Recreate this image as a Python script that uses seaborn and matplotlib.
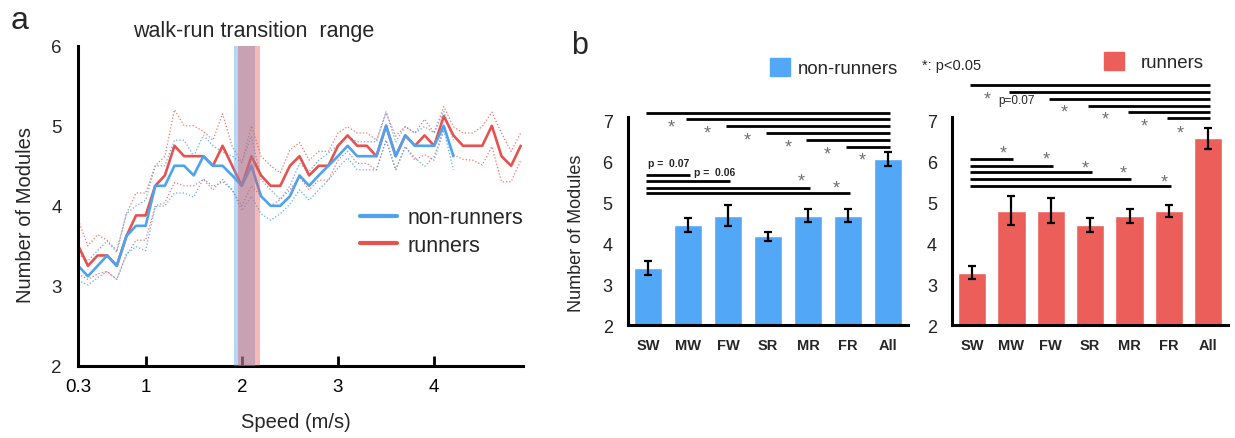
#Number of modules vs speed (a) and per-condition bars (b)

import matplotlib.pyplot as plt
import seaborn as sns
from matplotlib.lines import Line2D
from matplotlib.patches import Patch

sns.set_theme(style='white')
plt.rcParams['font.family'] = ['Liberation Sans', 'DejaVu Sans']

# ---- panel a data ----
speeds = [0.3, 0.4, 0.5, 0.6, 0.7, 0.8, 0.9, 1.0, 1.1, 1.2, 1.3, 1.4, 1.5, 1.6,
          1.7, 1.8, 1.9, 2.0, 2.1, 2.2, 2.3, 2.4, 2.5, 2.6, 2.7, 2.8, 2.9, 3.0,
          3.1, 3.2, 3.3, 3.4, 3.5, 3.6, 3.7, 3.8, 3.9, 4.0, 4.1, 4.2, 4.3, 4.4,
          4.5, 4.6, 4.7, 4.8, 4.9]

runners = [3.5, 3.25, 3.38, 3.38, 3.25, 3.62, 3.88, 3.88, 4.25, 4.38, 4.75, 4.62,
           4.62, 4.62, 4.5, 4.75, 4.5, 4.25, 4.62, 4.38, 4.25, 4.25, 4.5, 4.62,
           4.38, 4.5, 4.5, 4.75, 4.88, 4.75, 4.75, 4.62, 5.0, 4.62, 4.88, 4.75,
           4.88, 4.75, 5.12, 4.88, 4.75, 4.75, 4.75, 5.0, 4.62, 4.5, 4.75]
runners_hi = [3.82, 3.5, 3.64, 3.57, 3.44, 3.9, 4.16, 4.16, 4.5, 4.62, 5.2, 5.0,
              5.0, 4.93, 4.82, 5.15, 4.74, 4.54, 5.0, 4.62, 4.5, 4.41, 4.7, 4.79,
              4.57, 4.68, 4.68, 4.91, 4.99, 4.91, 4.91, 4.82, 5.16, 4.87, 4.99, 4.91,
              5.08, 4.91, 5.24, 4.99, 4.91, 4.91, 4.99, 5.17, 4.91, 4.68, 4.91]
runners_lo = [3.15, 3.08, 3.15, 3.18, 3.08, 3.38, 3.57, 3.57, 4.0, 4.04, 4.29, 4.25,
              4.25, 4.33, 4.2, 4.33, 4.2, 4.0, 4.25, 4.12, 4.0, 4.08, 4.2, 4.36,
              4.2, 4.32, 4.32, 4.57, 4.68, 4.53, 4.53, 4.45, 4.82, 4.45, 4.74, 4.57,
              4.64, 4.57, 4.95, 4.64, 4.58, 4.57, 4.51, 4.74, 4.3, 4.3, 4.57]

nonrunners = [3.25, 3.12, 3.25, 3.38, 3.25, 3.62, 3.75, 3.75, 4.25, 4.25, 4.5, 4.5,
              4.38, 4.62, 4.5, 4.5, 4.38, 4.25, 4.5, 4.12, 4.0, 4.0, 4.12, 4.38,
              4.25, 4.38, 4.5, 4.62, 4.75, 4.62, 4.62, 4.62, 5.0, 4.62, 4.88, 4.75,
              4.75, 4.75, 5.0, 4.62]
nonrunners_hi = [3.4, 3.31, 3.44, 3.56, 3.42, 3.9, 4.0, 4.07, 4.5, 4.5, 4.82, 4.82,
                 4.62, 4.88, 4.75, 4.67, 4.62, 4.54, 4.87, 4.33, 4.2, 4.08, 4.25, 4.53,
                 4.43, 4.57, 4.66, 4.76, 4.87, 4.8, 4.8, 4.8, 5.18, 4.8, 4.99, 4.91,
                 4.99, 4.91, 5.18, 4.82]
nonrunners_lo = [3.07, 3.01, 3.1, 3.18, 3.08, 3.4, 3.49, 3.44, 3.99, 4.0, 4.16, 4.16,
                 4.11, 4.34, 4.24, 4.3, 4.2, 3.94, 4.12, 3.9, 3.82, 3.9, 4.02, 4.2,
                 4.07, 4.2, 4.32, 4.47, 4.6, 4.45, 4.45, 4.45, 4.82, 4.45, 4.74, 4.6,
                 4.49, 4.62, 4.95, 4.45]

# walk-run transition ranges (m/s)
transition_nonrunners = (1.92, 2.14)
transition_runners = (1.965, 2.19)

# ---- panel b data ----
conditions = ['SW', 'MW', 'FW', 'SR', 'MR', 'FR', 'All']
bars_nonrunners = [3.41, 4.44, 4.68, 4.17, 4.68, 4.68, 6.07]
err_nonrunners = [0.17, 0.17, 0.26, 0.11, 0.16, 0.16, 0.17]
bars_runners = [3.29, 4.80, 4.80, 4.44, 4.68, 4.80, 6.56]
err_runners = [0.15, 0.36, 0.30, 0.17, 0.17, 0.15, 0.26]

# significance brackets: (from, to, height)
sig_nonrunners = [(0, 6, 7.19), (1, 6, 7.04), (2, 6, 6.87), (3, 6, 6.70),
                  (4, 6, 6.53), (5, 6, 6.36),
                  (0, 1, 5.68), (0, 2, 5.53), (0, 4, 5.36), (0, 5, 5.22)]
stars_nonrunners = [(0.58, 6.95), (1.47, 6.79), (2.47, 6.63), (3.5, 6.46),
                    (4.47, 6.29), (5.36, 6.13), (3.82, 5.62), (4.7, 5.46)]
ptext_nonrunners = [(0.0, 5.97, 'p =  0.07'), (1.16, 5.74, 'p =  0.06')]

sig_runners = [(0, 6, 7.87), (1, 6, 7.70), (2, 6, 7.53), (3, 6, 7.36),
               (4, 6, 7.21), (5, 6, 7.05),
               (0, 1, 6.07), (0, 2, 5.90), (0, 3, 5.75), (0, 4, 5.58), (0, 5, 5.41)]
stars_runners = [(0.4, 7.63), (2.33, 7.31), (3.39, 7.13), (4.38, 6.97), (5.28, 6.80),
                 (0.8, 6.32), (1.88, 6.15), (2.87, 5.95), (3.84, 5.81), (4.89, 5.61)]
ptext_runners = [(0.66, 7.49, 'p=0.07')]

blue = '#4da3f0'
red = '#e8524e'
bar_blue = '#52a7f7'
bar_red = '#ec5e59'

fig = plt.figure(figsize=(12.35, 4.39), dpi=100)

# ================= panel a =================
ax = fig.add_axes([0.0634, 0.1642, 0.3598, 0.7294])
n = len(nonrunners)
sns.lineplot(x=speeds, y=runners_hi, ax=ax, color=red, lw=0.9, ls=':', alpha=0.8)
sns.lineplot(x=speeds, y=runners_lo, ax=ax, color=red, lw=0.9, ls=':', alpha=0.8)
sns.lineplot(x=speeds[:n], y=nonrunners_hi, ax=ax, color=blue, lw=0.9, ls=':', alpha=0.9)
sns.lineplot(x=speeds[:n], y=nonrunners_lo, ax=ax, color=blue, lw=0.9, ls=':', alpha=0.9)
sns.lineplot(x=speeds, y=runners, ax=ax, color=red, lw=1.9)
sns.lineplot(x=speeds[:n], y=nonrunners, ax=ax, color=blue, lw=1.9)
ax.axvspan(*transition_nonrunners, color='#5aa9ee', alpha=0.45, lw=0, zorder=3)
ax.axvspan(*transition_runners, color='#e8534f', alpha=0.4, lw=0, zorder=3)

ax.set_xlim(0.3, 4.92)
ax.set_ylim(2, 6)
ax.set_xticks([0.3, 1, 2, 3, 4])
ax.set_xticklabels(['0.3', '1', '2', '3', '4'])
ax.set_yticks([2, 3, 4, 5, 6])
ax.tick_params(axis='x', bottom=True, direction='in', length=7, width=2, pad=9,
               labelsize=13.5, colors='black')
ax.tick_params(axis='y', left=False, length=0, pad=12, labelsize=13.5)
for s in ['top', 'right']:
    ax.spines[s].set_visible(False)
for s in ['left', 'bottom']:
    ax.spines[s].set_linewidth(2.2)
    ax.spines[s].set_color('black')
ax.set_xlabel('Speed (m/s)', fontsize=14.5)
ax.set_ylabel('Number of Modules', fontsize=14.5)
ax.xaxis.set_label_coords(0.49, -0.144)
ax.yaxis.set_label_coords(-0.098, 0.474)

handles = [Line2D([], [], color=blue, lw=3), Line2D([], [], color=red, lw=3)]
ax.legend(handles, ['non-runners', 'runners'], loc='upper left',
          bbox_to_anchor=(0.634, 0.495), frameon=False, fontsize=15.5,
          handlelength=1.7, handletextpad=0.5, labelspacing=0.3,
          borderpad=0, borderaxespad=0)

fig.text(254 / 1235, 1 - 32 / 439, 'walk-run transition  range', fontsize=15.5,
         ha='center', va='center')
fig.text(20 / 1235, 1 - 21 / 439, 'a', fontsize=23, ha='center', va='center')
fig.text(580 / 1235, 1 - 46 / 439, 'b', fontsize=22, ha='center', va='center')


# ================= panel b =================
def bar_panel(ax, values, errs, color, sig, stars, ptexts, pbold, ylabel):
    sns.barplot(x=conditions, y=values, ax=ax, color=color, width=0.72,
                saturation=1, errorbar=None)
    ax.errorbar(range(len(conditions)), values, yerr=errs, fmt='none',
                ecolor='black', elinewidth=1.6, capsize=2.8, capthick=1.6, zorder=4)
    for a, b, h in sig:
        ax.plot([a - 0.05, b + 0.05], [h, h], color='black', lw=2,
                solid_capstyle='butt', clip_on=False)
    for x, y in stars:
        ax.annotate('*', (x, y), xytext=(0, -3), textcoords='offset points',
                    fontsize=13, color='#707070', ha='center', va='center',
                    annotation_clip=False)
    for x, y, t in ptexts:
        ax.text(x, y, t, fontsize=7.5 if pbold else 8.5,
                fontweight='bold' if pbold else 'normal', ha='left', va='center')
    ax.set_xlim(-0.5, 6.5)
    ax.set_ylim(2, 7.95)
    ax.set_yticks([2, 3, 4, 5, 6, 7])
    for s in ['top', 'right']:
        ax.spines[s].set_visible(False)
    for s in ['left', 'bottom']:
        ax.spines[s].set_linewidth(2.2)
        ax.spines[s].set_color('black')
    ax.spines['left'].set_bounds(2, 7.08)
    ax.tick_params(axis='y', length=0, pad=11, labelsize=13, labelcolor='#222222')
    ax.tick_params(axis='x', length=0, pad=9, labelsize=10.5)
    for lab in ax.get_xticklabels():
        lab.set_fontweight('bold')
    ax.set_xlabel('')
    if ylabel:
        ax.set_ylabel('Number of Modules', fontsize=13)
        ax.yaxis.set_label_coords(-0.154, 0.381)
    else:
        ax.set_ylabel('')


ax1 = fig.add_axes([0.5085, 0.2563, 0.2267, 0.5558])
bar_panel(ax1, bars_nonrunners, err_nonrunners, bar_blue, sig_nonrunners,
          stars_nonrunners, ptext_nonrunners, True, True)
ax2 = fig.add_axes([0.7711, 0.2563, 0.2232, 0.5558])
bar_panel(ax2, bars_runners, err_runners, bar_red, sig_runners,
          stars_runners, ptext_runners, False, False)

fig.legend([Patch(color=bar_blue)], ['non-runners'], loc='center left',
           bbox_to_anchor=(770 / 1235, 1 - 68.5 / 439), frameon=False, fontsize=13.4,
           handlelength=1.1, handleheight=1.1, handletextpad=0.4,
           borderpad=0, borderaxespad=0)
fig.legend([Patch(color=bar_red)], ['runners'], loc='center left',
           bbox_to_anchor=(1104 / 1235, 1 - 62.5 / 439), frameon=False, fontsize=13.4,
           handlelength=1.1, handleheight=1.1, handletextpad=0.85,
           borderpad=0, borderaxespad=0)
fig.text(921.7 / 1235, 1 - 65.7 / 439, '*: p<0.05', fontsize=10.5, ha='left', va='center')

fig.savefig('out.png', dpi=100)
